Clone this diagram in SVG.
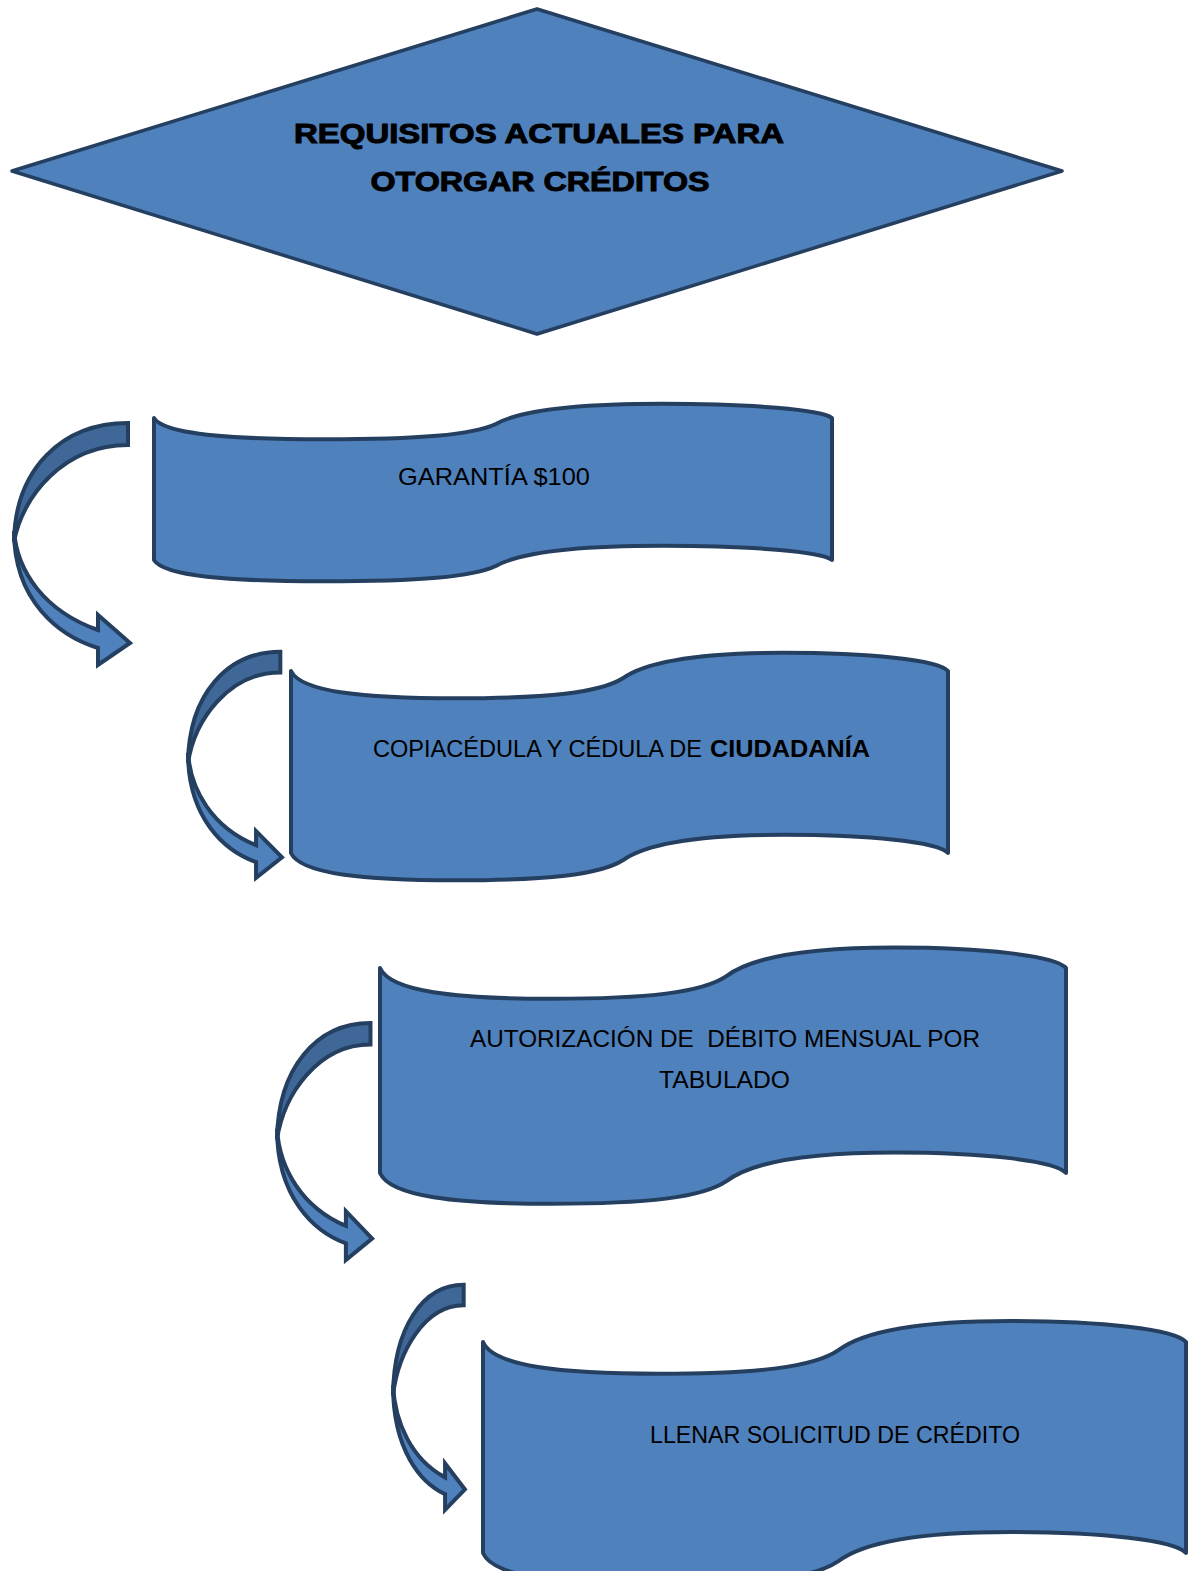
<svg xmlns="http://www.w3.org/2000/svg" xmlns:xlink="http://www.w3.org/1999/xlink" width="1194" height="1571" viewBox="0 0 1194 1571">
<style>
.shape{fill:#4F81BD;stroke:#243F60;stroke-width:3.5;stroke-linejoin:round}
.wv{fill:#4F81BD;stroke:#243F60;stroke-width:4;stroke-linejoin:round;vector-effect:non-scaling-stroke}
.front{fill:#4F81BD;stroke:#243F60;stroke-width:4;stroke-linejoin:miter;vector-effect:non-scaling-stroke}
.back{fill:#3F6898;stroke:#243F60;stroke-width:4;stroke-linejoin:miter;vector-effect:non-scaling-stroke}
.soft .front{stroke:#3F6C9F}
.soft .back{fill:#4673A8;stroke:#3F6C9F}
.title{font-family:"Liberation Sans",Arial,sans-serif;font-weight:bold;font-size:28px;fill:#000;stroke:#000;stroke-width:1;text-anchor:middle}
.lbl{font-family:"Liberation Sans",Arial,sans-serif;font-size:24px;fill:#000}
.b{font-weight:bold}
</style>
<defs>
<path id="wave" class="wv" d="M0,0 C15,115 110,150 250,150 C390,150 470,120 505,40 C540,-50 620,-100 750,-100 C880,-100 985,-60 1000,0 L1000,1000 C985,940 880,900 750,900 C620,900 540,950 505,1040 C470,1120 390,1150 250,1150 C110,1150 15,1115 0,1000 Z"/>
<g id="carrow">
<path class="front" d="M84,209 L84,194 L116,222 L84,244 L84,227 C45,215 0,180 0,110 C3,150 30,190 84,209 Z"/>
<path class="back" d="M114,2 C48,2 1,48 0,121 C8,75 50,24 114,24 Z"/>
</g>
</defs>

<g id="title-node">
<polygon class="shape" points="537,9 1062,171 537,334 12,171"/>
<text class="title" x="539" y="143" textLength="490" lengthAdjust="spacingAndGlyphs">REQUISITOS ACTUALES PARA</text>
<text class="title" x="540" y="191" textLength="339" lengthAdjust="spacingAndGlyphs">OTORGAR CRÉDITOS</text>
</g>

<g id="connectors">
<use xlink:href="#carrow" href="#carrow" transform="translate(14,421)"/>
<use xlink:href="#carrow" href="#carrow" transform="translate(188,650) scale(0.81,0.934)"/>
<use xlink:href="#carrow" href="#carrow" transform="translate(277,1021) scale(0.82,0.98)"/>
<g class="soft"><use xlink:href="#carrow" href="#carrow" transform="translate(393,1283) scale(0.62,0.93)"/></g>
</g>

<g id="node-garantia">
<use xlink:href="#wave" href="#wave" transform="translate(154,418) scale(0.678,0.142)"/>
<text class="lbl" x="398" y="485" textLength="192" lengthAdjust="spacingAndGlyphs">GARANTÍA $100</text>
</g>

<g id="node-cedula">
<use xlink:href="#wave" href="#wave" transform="translate(291,671) scale(0.657,0.182)"/>
<text class="lbl" x="373" y="757" textLength="329" lengthAdjust="spacingAndGlyphs">COPIACÉDULA Y CÉDULA DE</text>
<text class="lbl b" x="710" y="757" textLength="160" lengthAdjust="spacingAndGlyphs">CIUDADANÍA</text>
</g>

<g id="node-autorizacion">
<use xlink:href="#wave" href="#wave" transform="translate(380,968) scale(0.686,0.205)"/>
<text class="lbl" x="470" y="1047" textLength="510" lengthAdjust="spacingAndGlyphs" xml:space="preserve" style="white-space:pre">AUTORIZACIÓN DE  DÉBITO MENSUAL POR</text>
<text class="lbl" x="659" y="1088" textLength="131" lengthAdjust="spacingAndGlyphs">TABULADO</text>
</g>

<g id="node-solicitud">
<use xlink:href="#wave" href="#wave" transform="translate(483,1342) scale(0.703,0.211)"/>
<text class="lbl" x="650" y="1443" textLength="370" lengthAdjust="spacingAndGlyphs">LLENAR SOLICITUD DE CRÉDITO</text>
</g>
</svg>
